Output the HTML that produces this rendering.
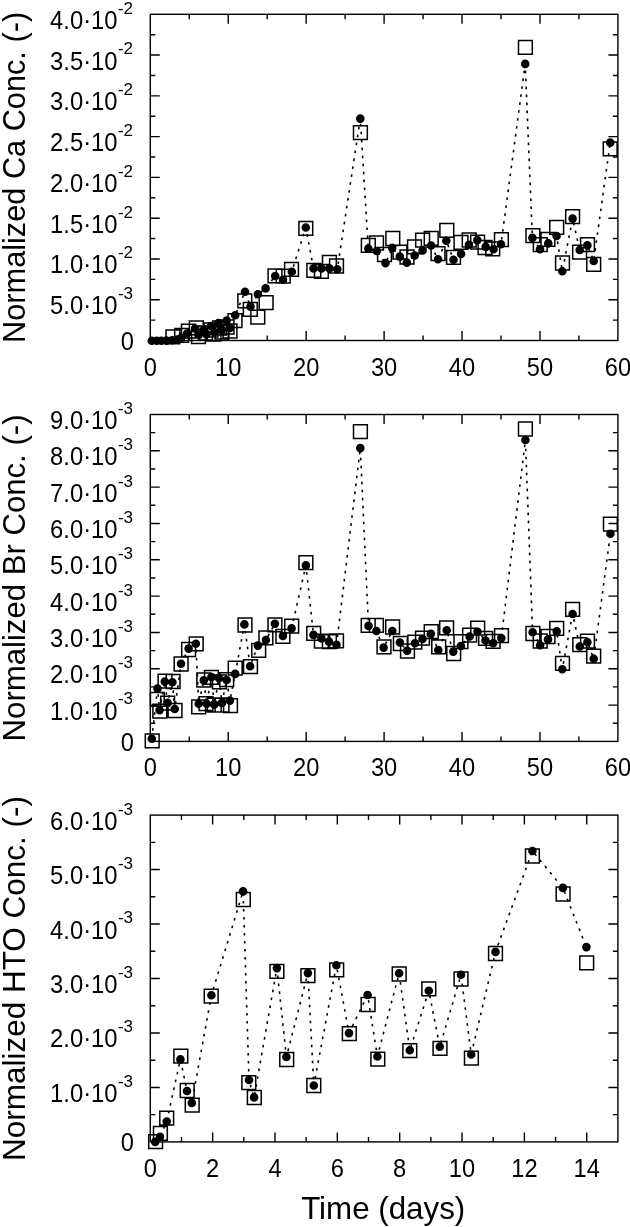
<!DOCTYPE html><html><head><meta charset="utf-8"><style>html,body{margin:0;padding:0;background:#fff;}svg{display:block;will-change:transform;}text{font-family:"Liberation Sans",sans-serif;fill:#000;}</style></head><body>
<svg width="630" height="1227" viewBox="0 0 630 1227">
<rect width="630" height="1227" fill="#fff"/>
<path d="M189.27 340.5v-5M189.27 14.3v5M228.23 340.5v-9.5M228.23 14.3v9.5M267.2 340.5v-5M267.2 14.3v5M306.17 340.5v-9.5M306.17 14.3v9.5M345.13 340.5v-5M345.13 14.3v5M384.1 340.5v-9.5M384.1 14.3v9.5M423.07 340.5v-5M423.07 14.3v5M462.03 340.5v-9.5M462.03 14.3v9.5M501 340.5v-5M501 14.3v5M539.97 340.5v-9.5M539.97 14.3v9.5M578.93 340.5v-5M578.93 14.3v5M150.3 320.11h5M617.9 320.11h-5M150.3 299.73h9.5M617.9 299.73h-9.5M150.3 279.34h5M617.9 279.34h-5M150.3 258.95h9.5M617.9 258.95h-9.5M150.3 238.56h5M617.9 238.56h-5M150.3 218.18h9.5M617.9 218.18h-9.5M150.3 197.79h5M617.9 197.79h-5M150.3 177.4h9.5M617.9 177.4h-9.5M150.3 157.01h5M617.9 157.01h-5M150.3 136.62h9.5M617.9 136.62h-9.5M150.3 116.24h5M617.9 116.24h-5M150.3 95.85h9.5M617.9 95.85h-9.5M150.3 75.46h5M617.9 75.46h-5M150.3 55.07h9.5M617.9 55.07h-9.5M150.3 34.69h5M617.9 34.69h-5" stroke="#000" stroke-width="1.4" fill="none"/>
<rect x="150.3" y="14.3" width="467.6" height="326.2" fill="none" stroke="#000" stroke-width="1.4"/>
<path d="M151.8 340.8 L156.8 340.8 L161.4 340.8 L166.4 340.6 L172.1 340.3 L177 339.5 L181 338 L187 333.5 L195 328.5 L198.7 335 L203.8 329.5 L206.7 334 L211 326 L214.3 332 L218.5 323 L221.9 330 L226.7 320.5 L229.9 328 L235.2 315.3 L245 291.7 L250.5 306.6 L257.9 294.2 L265.6 288.4 L275.2 276 L283 279.7 L291.8 271.7 L305.8 227.5 L313.5 268.4 L321.4 268.4 L329.4 268.4 L337.3 269.2 L360.3 118.6 L368.3 248.6 L376.7 251 L385.5 263.1 L392.2 247.9 L399.8 256.6 L406.8 262.6 L414.7 255.5 L422.6 250.4 L431.1 245.5 L438 259.2 L446.3 240.7 L453.5 259.8 L461.1 253.9 L468.9 244.8 L477.3 240.1 L485.7 246.9 L493.5 249.3 L501 244.2 L525.2 63.9 L532.4 237.9 L540 249.3 L548.3 243.4 L556.6 236 L562.3 271.2 L572.6 218.6 L579.7 250 L587.4 245.4 L593.7 261 L610.2 142.6" fill="none" stroke="#000" stroke-width="1.6" stroke-dasharray="2.6 5.4"/>
<path d="M166 329.9h13.8v13.8h-13.8zM174.7 328.5h13.8v13.8h-13.8zM181.5 324.3h13.8v13.8h-13.8zM189.4 321h13.8v13.8h-13.8zM191.6 329.7h13.8v13.8h-13.8zM198.6 326.1h13.8v13.8h-13.8zM204.1 323.1h13.8v13.8h-13.8zM207.1 327.1h13.8v13.8h-13.8zM212.6 321.1h13.8v13.8h-13.8zM215.1 325.1h13.8v13.8h-13.8zM220.1 320.1h13.8v13.8h-13.8zM223.1 324.1h13.8v13.8h-13.8zM228.1 313.7h13.8v13.8h-13.8zM237.9 293.9h13.8v13.8h-13.8zM243.4 302.4h13.8v13.8h-13.8zM250.9 310.2h13.8v13.8h-13.8zM259.2 295.7h13.8v13.8h-13.8zM268.1 268.9h13.8v13.8h-13.8zM276.3 269.2h13.8v13.8h-13.8zM284.6 262.4h13.8v13.8h-13.8zM298.9 221.4h13.8v13.8h-13.8zM306.9 263.4h13.8v13.8h-13.8zM314.5 264.5h13.8v13.8h-13.8zM322.5 255.5h13.8v13.8h-13.8zM329.6 259.1h13.8v13.8h-13.8zM353.5 125.7h13.8v13.8h-13.8zM361.4 238.5h13.8v13.8h-13.8zM369.6 236.1h13.8v13.8h-13.8zM377.6 247.6h13.8v13.8h-13.8zM385.9 231.6h13.8v13.8h-13.8zM393.1 245.2h13.8v13.8h-13.8zM400.1 250.1h13.8v13.8h-13.8zM407.6 240h13.8v13.8h-13.8zM415.7 233.3h13.8v13.8h-13.8zM424.3 231.4h13.8v13.8h-13.8zM431.1 246.7h13.8v13.8h-13.8zM439.9 223.5h13.8v13.8h-13.8zM446.6 250.5h13.8v13.8h-13.8zM454.1 235.4h13.8v13.8h-13.8zM462.3 233.1h13.8v13.8h-13.8zM470.7 235.2h13.8v13.8h-13.8zM478.1 240.6h13.8v13.8h-13.8zM485.8 241.9h13.8v13.8h-13.8zM494.5 232.7h13.8v13.8h-13.8zM518.5 40.5h13.8v13.8h-13.8zM526 228.7h13.8v13.8h-13.8zM533.4 237.8h13.8v13.8h-13.8zM541 232.5h13.8v13.8h-13.8zM549.8 220.5h13.8v13.8h-13.8zM555.6 256.1h13.8v13.8h-13.8zM565.7 209.7h13.8v13.8h-13.8zM572.7 245.3h13.8v13.8h-13.8zM580.6 237.8h13.8v13.8h-13.8zM586.8 257.4h13.8v13.8h-13.8zM603.3 142h13.8v13.8h-13.8z" fill="none" stroke="#000" stroke-width="1.5"/>
<path d="M147.5 340.8a4.3 4.3 0 1 0 8.6 0a4.3 4.3 0 1 0 -8.6 0zM152.5 340.8a4.3 4.3 0 1 0 8.6 0a4.3 4.3 0 1 0 -8.6 0zM157.1 340.8a4.3 4.3 0 1 0 8.6 0a4.3 4.3 0 1 0 -8.6 0zM162.1 340.6a4.3 4.3 0 1 0 8.6 0a4.3 4.3 0 1 0 -8.6 0zM167.8 340.3a4.3 4.3 0 1 0 8.6 0a4.3 4.3 0 1 0 -8.6 0zM172.7 339.5a4.3 4.3 0 1 0 8.6 0a4.3 4.3 0 1 0 -8.6 0zM176.7 338a4.3 4.3 0 1 0 8.6 0a4.3 4.3 0 1 0 -8.6 0zM182.7 333.5a4.3 4.3 0 1 0 8.6 0a4.3 4.3 0 1 0 -8.6 0zM190.7 328.5a4.3 4.3 0 1 0 8.6 0a4.3 4.3 0 1 0 -8.6 0zM194.4 335a4.3 4.3 0 1 0 8.6 0a4.3 4.3 0 1 0 -8.6 0zM199.5 329.5a4.3 4.3 0 1 0 8.6 0a4.3 4.3 0 1 0 -8.6 0zM202.4 334a4.3 4.3 0 1 0 8.6 0a4.3 4.3 0 1 0 -8.6 0zM206.7 326a4.3 4.3 0 1 0 8.6 0a4.3 4.3 0 1 0 -8.6 0zM210 332a4.3 4.3 0 1 0 8.6 0a4.3 4.3 0 1 0 -8.6 0zM214.2 323a4.3 4.3 0 1 0 8.6 0a4.3 4.3 0 1 0 -8.6 0zM217.6 330a4.3 4.3 0 1 0 8.6 0a4.3 4.3 0 1 0 -8.6 0zM222.4 320.5a4.3 4.3 0 1 0 8.6 0a4.3 4.3 0 1 0 -8.6 0zM225.6 328a4.3 4.3 0 1 0 8.6 0a4.3 4.3 0 1 0 -8.6 0zM230.9 315.3a4.3 4.3 0 1 0 8.6 0a4.3 4.3 0 1 0 -8.6 0zM240.7 291.7a4.3 4.3 0 1 0 8.6 0a4.3 4.3 0 1 0 -8.6 0zM246.2 306.6a4.3 4.3 0 1 0 8.6 0a4.3 4.3 0 1 0 -8.6 0zM253.6 294.2a4.3 4.3 0 1 0 8.6 0a4.3 4.3 0 1 0 -8.6 0zM261.3 288.4a4.3 4.3 0 1 0 8.6 0a4.3 4.3 0 1 0 -8.6 0zM270.9 276a4.3 4.3 0 1 0 8.6 0a4.3 4.3 0 1 0 -8.6 0zM278.7 279.7a4.3 4.3 0 1 0 8.6 0a4.3 4.3 0 1 0 -8.6 0zM287.5 271.7a4.3 4.3 0 1 0 8.6 0a4.3 4.3 0 1 0 -8.6 0zM301.5 227.5a4.3 4.3 0 1 0 8.6 0a4.3 4.3 0 1 0 -8.6 0zM309.2 268.4a4.3 4.3 0 1 0 8.6 0a4.3 4.3 0 1 0 -8.6 0zM317.1 268.4a4.3 4.3 0 1 0 8.6 0a4.3 4.3 0 1 0 -8.6 0zM325.1 268.4a4.3 4.3 0 1 0 8.6 0a4.3 4.3 0 1 0 -8.6 0zM333 269.2a4.3 4.3 0 1 0 8.6 0a4.3 4.3 0 1 0 -8.6 0zM356 118.6a4.3 4.3 0 1 0 8.6 0a4.3 4.3 0 1 0 -8.6 0zM364 248.6a4.3 4.3 0 1 0 8.6 0a4.3 4.3 0 1 0 -8.6 0zM372.4 251a4.3 4.3 0 1 0 8.6 0a4.3 4.3 0 1 0 -8.6 0zM381.2 263.1a4.3 4.3 0 1 0 8.6 0a4.3 4.3 0 1 0 -8.6 0zM387.9 247.9a4.3 4.3 0 1 0 8.6 0a4.3 4.3 0 1 0 -8.6 0zM395.5 256.6a4.3 4.3 0 1 0 8.6 0a4.3 4.3 0 1 0 -8.6 0zM402.5 262.6a4.3 4.3 0 1 0 8.6 0a4.3 4.3 0 1 0 -8.6 0zM410.4 255.5a4.3 4.3 0 1 0 8.6 0a4.3 4.3 0 1 0 -8.6 0zM418.3 250.4a4.3 4.3 0 1 0 8.6 0a4.3 4.3 0 1 0 -8.6 0zM426.8 245.5a4.3 4.3 0 1 0 8.6 0a4.3 4.3 0 1 0 -8.6 0zM433.7 259.2a4.3 4.3 0 1 0 8.6 0a4.3 4.3 0 1 0 -8.6 0zM442 240.7a4.3 4.3 0 1 0 8.6 0a4.3 4.3 0 1 0 -8.6 0zM449.2 259.8a4.3 4.3 0 1 0 8.6 0a4.3 4.3 0 1 0 -8.6 0zM456.8 253.9a4.3 4.3 0 1 0 8.6 0a4.3 4.3 0 1 0 -8.6 0zM464.6 244.8a4.3 4.3 0 1 0 8.6 0a4.3 4.3 0 1 0 -8.6 0zM473 240.1a4.3 4.3 0 1 0 8.6 0a4.3 4.3 0 1 0 -8.6 0zM481.4 246.9a4.3 4.3 0 1 0 8.6 0a4.3 4.3 0 1 0 -8.6 0zM489.2 249.3a4.3 4.3 0 1 0 8.6 0a4.3 4.3 0 1 0 -8.6 0zM496.7 244.2a4.3 4.3 0 1 0 8.6 0a4.3 4.3 0 1 0 -8.6 0zM520.9 63.9a4.3 4.3 0 1 0 8.6 0a4.3 4.3 0 1 0 -8.6 0zM528.1 237.9a4.3 4.3 0 1 0 8.6 0a4.3 4.3 0 1 0 -8.6 0zM535.7 249.3a4.3 4.3 0 1 0 8.6 0a4.3 4.3 0 1 0 -8.6 0zM544 243.4a4.3 4.3 0 1 0 8.6 0a4.3 4.3 0 1 0 -8.6 0zM552.3 236a4.3 4.3 0 1 0 8.6 0a4.3 4.3 0 1 0 -8.6 0zM558 271.2a4.3 4.3 0 1 0 8.6 0a4.3 4.3 0 1 0 -8.6 0zM568.3 218.6a4.3 4.3 0 1 0 8.6 0a4.3 4.3 0 1 0 -8.6 0zM575.4 250a4.3 4.3 0 1 0 8.6 0a4.3 4.3 0 1 0 -8.6 0zM583.1 245.4a4.3 4.3 0 1 0 8.6 0a4.3 4.3 0 1 0 -8.6 0zM589.4 261a4.3 4.3 0 1 0 8.6 0a4.3 4.3 0 1 0 -8.6 0zM605.9 142.6a4.3 4.3 0 1 0 8.6 0a4.3 4.3 0 1 0 -8.6 0z" fill="#000"/>
<text x="132.5" y="28.8" font-size="26" text-anchor="end" textLength="67.5" lengthAdjust="spacingAndGlyphs" transform="translate(-14.900000000000006 0)">4.0·10</text>
<text x="133" y="13.7" font-size="17" text-anchor="end">-2</text>
<text x="132.5" y="69.58" font-size="26" text-anchor="end" textLength="67.5" lengthAdjust="spacingAndGlyphs" transform="translate(-14.900000000000006 0)">3.5·10</text>
<text x="133" y="54.48" font-size="17" text-anchor="end">-2</text>
<text x="132.5" y="110.35" font-size="26" text-anchor="end" textLength="67.5" lengthAdjust="spacingAndGlyphs" transform="translate(-14.900000000000006 0)">3.0·10</text>
<text x="133" y="95.25" font-size="17" text-anchor="end">-2</text>
<text x="132.5" y="151.12" font-size="26" text-anchor="end" textLength="67.5" lengthAdjust="spacingAndGlyphs" transform="translate(-14.900000000000006 0)">2.5·10</text>
<text x="133" y="136.03" font-size="17" text-anchor="end">-2</text>
<text x="132.5" y="191.9" font-size="26" text-anchor="end" textLength="67.5" lengthAdjust="spacingAndGlyphs" transform="translate(-14.900000000000006 0)">2.0·10</text>
<text x="133" y="176.8" font-size="17" text-anchor="end">-2</text>
<text x="132.5" y="232.68" font-size="26" text-anchor="end" textLength="67.5" lengthAdjust="spacingAndGlyphs" transform="translate(-14.900000000000006 0)">1.5·10</text>
<text x="133" y="217.58" font-size="17" text-anchor="end">-2</text>
<text x="132.5" y="273.45" font-size="26" text-anchor="end" textLength="67.5" lengthAdjust="spacingAndGlyphs" transform="translate(-14.900000000000006 0)">1.0·10</text>
<text x="133" y="258.35" font-size="17" text-anchor="end">-2</text>
<text x="132.5" y="314.23" font-size="26" text-anchor="end" textLength="67.5" lengthAdjust="spacingAndGlyphs" transform="translate(-14.900000000000006 0)">5.0·10</text>
<text x="133" y="299.12" font-size="17" text-anchor="end">-3</text>
<text transform="translate(134 349.8) scale(0.9 1)" font-size="26.3" text-anchor="end">0</text>
<text transform="translate(150.3 375.5) scale(0.9 1)" font-size="26.3" text-anchor="middle">0</text>
<text transform="translate(228.23 375.5) scale(0.9 1)" font-size="26.3" text-anchor="middle">10</text>
<text transform="translate(306.17 375.5) scale(0.9 1)" font-size="26.3" text-anchor="middle">20</text>
<text transform="translate(384.1 375.5) scale(0.9 1)" font-size="26.3" text-anchor="middle">30</text>
<text transform="translate(462.03 375.5) scale(0.9 1)" font-size="26.3" text-anchor="middle">40</text>
<text transform="translate(539.97 375.5) scale(0.9 1)" font-size="26.3" text-anchor="middle">50</text>
<text transform="translate(617.9 375.5) scale(0.9 1)" font-size="26.3" text-anchor="middle">60</text>
<text transform="translate(25 177.4) rotate(-90)" x="0" y="0" font-size="32" text-anchor="middle" textLength="331" lengthAdjust="spacingAndGlyphs">Normalized Ca Conc. (-)</text>
<path d="M189.27 741.4v-5M189.27 414.5v5M228.23 741.4v-9.5M228.23 414.5v9.5M267.2 741.4v-5M267.2 414.5v5M306.17 741.4v-9.5M306.17 414.5v9.5M345.13 741.4v-5M345.13 414.5v5M384.1 741.4v-9.5M384.1 414.5v9.5M423.07 741.4v-5M423.07 414.5v5M462.03 741.4v-9.5M462.03 414.5v9.5M501 741.4v-5M501 414.5v5M539.97 741.4v-9.5M539.97 414.5v9.5M578.93 741.4v-5M578.93 414.5v5M150.3 723.24h5M617.9 723.24h-5M150.3 705.08h9.5M617.9 705.08h-9.5M150.3 686.92h5M617.9 686.92h-5M150.3 668.76h9.5M617.9 668.76h-9.5M150.3 650.59h5M617.9 650.59h-5M150.3 632.43h9.5M617.9 632.43h-9.5M150.3 614.27h5M617.9 614.27h-5M150.3 596.11h9.5M617.9 596.11h-9.5M150.3 577.95h5M617.9 577.95h-5M150.3 559.79h9.5M617.9 559.79h-9.5M150.3 541.63h5M617.9 541.63h-5M150.3 523.47h9.5M617.9 523.47h-9.5M150.3 505.31h5M617.9 505.31h-5M150.3 487.14h9.5M617.9 487.14h-9.5M150.3 468.98h5M617.9 468.98h-5M150.3 450.82h9.5M617.9 450.82h-9.5M150.3 432.66h5M617.9 432.66h-5" stroke="#000" stroke-width="1.4" fill="none"/>
<rect x="150.3" y="414.5" width="467.6" height="326.9" fill="none" stroke="#000" stroke-width="1.4"/>
<path d="M151.8 738.7 L157.5 688.6 L159.6 710.1 L164.8 681.5 L167.6 702.9 L172.4 682.3 L174.7 709 L181 663.8 L188.6 648.6 L195.8 643.8 L198.7 703.8 L203.8 680.4 L206.7 703.8 L211.4 677.1 L214.3 704.4 L219 678.1 L221.9 702.9 L226.7 680 L229.9 700.6 L235.2 673.9 L244.4 624.4 L250.1 666.3 L257.9 645.6 L265.9 640 L274.9 623.7 L282.9 636 L291.6 628.4 L305.9 565.4 L313.5 634.9 L321.4 638.4 L329 641.6 L336.5 644.8 L360.3 448.1 L368.5 625.9 L376.4 631 L383.6 647.6 L392.3 631 L399.9 642.5 L407.1 650.8 L415 643.2 L422.5 638.9 L430.9 633.7 L438.3 650 L446.7 630.2 L453.3 651.6 L460.9 646 L469.6 636.5 L477.5 631.7 L485.5 640.5 L493.1 643.2 L501.3 638.1 L525.4 440 L532.6 632.2 L540.1 645.2 L548 639.4 L556.7 631.4 L562.3 669.2 L572.6 614 L579.8 646.5 L587.4 642.2 L593.7 658.7 L610.4 533.8" fill="none" stroke="#000" stroke-width="1.6" stroke-dasharray="2.6 5.4"/>
<path d="M145.3 733.9h13.8v13.8h-13.8zM150.4 692.5h13.8v13.8h-13.8zM152.9 704.3h13.8v13.8h-13.8zM158.1 674.2h13.8v13.8h-13.8zM160.7 696.3h13.8v13.8h-13.8zM166.2 674.6h13.8v13.8h-13.8zM168.1 703.6h13.8v13.8h-13.8zM174.2 657.1h13.8v13.8h-13.8zM181.7 642.6h13.8v13.8h-13.8zM189.3 636.9h13.8v13.8h-13.8zM191.8 700h13.8v13.8h-13.8zM196.9 673.1h13.8v13.8h-13.8zM199.1 696.7h13.8v13.8h-13.8zM204.5 670.4h13.8v13.8h-13.8zM207.4 698.2h13.8v13.8h-13.8zM212.5 675h13.8v13.8h-13.8zM215.1 698.1h13.8v13.8h-13.8zM219.8 672.7h13.8v13.8h-13.8zM223.6 698.8h13.8v13.8h-13.8zM228.3 661.3h13.8v13.8h-13.8zM238.1 618.1h13.8v13.8h-13.8zM243.6 659.8h13.8v13.8h-13.8zM251.8 643.4h13.8v13.8h-13.8zM259 631h13.8v13.8h-13.8zM268 617.9h13.8v13.8h-13.8zM276 629.4h13.8v13.8h-13.8zM284.8 619.3h13.8v13.8h-13.8zM299 555.8h13.8v13.8h-13.8zM306.8 626.4h13.8v13.8h-13.8zM314.5 634.2h13.8v13.8h-13.8zM322.5 634.7h13.8v13.8h-13.8zM329.6 633.9h13.8v13.8h-13.8zM353.5 424.8h13.8v13.8h-13.8zM361.3 618.5h13.8v13.8h-13.8zM369.5 618.5h13.8v13.8h-13.8zM377.1 639.9h13.8v13.8h-13.8zM385.7 620.1h13.8v13.8h-13.8zM393.5 636.6h13.8v13.8h-13.8zM400.6 644.1h13.8v13.8h-13.8zM407.9 635.2h13.8v13.8h-13.8zM415.6 631.2h13.8v13.8h-13.8zM424.3 624.8h13.8v13.8h-13.8zM431.8 639.9h13.8v13.8h-13.8zM439.7 620.9h13.8v13.8h-13.8zM446.8 646.6h13.8v13.8h-13.8zM454 634.7h13.8v13.8h-13.8zM462.7 628.3h13.8v13.8h-13.8zM470.8 621.2h13.8v13.8h-13.8zM478.7 631.5h13.8v13.8h-13.8zM486.2 634.5h13.8v13.8h-13.8zM494.6 628.7h13.8v13.8h-13.8zM518.5 422.1h13.8v13.8h-13.8zM526 626.6h13.8v13.8h-13.8zM533.3 634.1h13.8v13.8h-13.8zM541.1 629.6h13.8v13.8h-13.8zM549.8 621.4h13.8v13.8h-13.8zM555.6 656.4h13.8v13.8h-13.8zM565.7 602.5h13.8v13.8h-13.8zM572.9 637.7h13.8v13.8h-13.8zM580.6 634.2h13.8v13.8h-13.8zM586.8 649.3h13.8v13.8h-13.8zM603.5 517.2h13.8v13.8h-13.8z" fill="none" stroke="#000" stroke-width="1.5"/>
<path d="M147.5 738.7a4.3 4.3 0 1 0 8.6 0a4.3 4.3 0 1 0 -8.6 0zM153.2 688.6a4.3 4.3 0 1 0 8.6 0a4.3 4.3 0 1 0 -8.6 0zM155.3 710.1a4.3 4.3 0 1 0 8.6 0a4.3 4.3 0 1 0 -8.6 0zM160.5 681.5a4.3 4.3 0 1 0 8.6 0a4.3 4.3 0 1 0 -8.6 0zM163.3 702.9a4.3 4.3 0 1 0 8.6 0a4.3 4.3 0 1 0 -8.6 0zM168.1 682.3a4.3 4.3 0 1 0 8.6 0a4.3 4.3 0 1 0 -8.6 0zM170.4 709a4.3 4.3 0 1 0 8.6 0a4.3 4.3 0 1 0 -8.6 0zM176.7 663.8a4.3 4.3 0 1 0 8.6 0a4.3 4.3 0 1 0 -8.6 0zM184.3 648.6a4.3 4.3 0 1 0 8.6 0a4.3 4.3 0 1 0 -8.6 0zM191.5 643.8a4.3 4.3 0 1 0 8.6 0a4.3 4.3 0 1 0 -8.6 0zM194.4 703.8a4.3 4.3 0 1 0 8.6 0a4.3 4.3 0 1 0 -8.6 0zM199.5 680.4a4.3 4.3 0 1 0 8.6 0a4.3 4.3 0 1 0 -8.6 0zM202.4 703.8a4.3 4.3 0 1 0 8.6 0a4.3 4.3 0 1 0 -8.6 0zM207.1 677.1a4.3 4.3 0 1 0 8.6 0a4.3 4.3 0 1 0 -8.6 0zM210 704.4a4.3 4.3 0 1 0 8.6 0a4.3 4.3 0 1 0 -8.6 0zM214.7 678.1a4.3 4.3 0 1 0 8.6 0a4.3 4.3 0 1 0 -8.6 0zM217.6 702.9a4.3 4.3 0 1 0 8.6 0a4.3 4.3 0 1 0 -8.6 0zM222.4 680a4.3 4.3 0 1 0 8.6 0a4.3 4.3 0 1 0 -8.6 0zM225.6 700.6a4.3 4.3 0 1 0 8.6 0a4.3 4.3 0 1 0 -8.6 0zM230.9 673.9a4.3 4.3 0 1 0 8.6 0a4.3 4.3 0 1 0 -8.6 0zM240.1 624.4a4.3 4.3 0 1 0 8.6 0a4.3 4.3 0 1 0 -8.6 0zM245.8 666.3a4.3 4.3 0 1 0 8.6 0a4.3 4.3 0 1 0 -8.6 0zM253.6 645.6a4.3 4.3 0 1 0 8.6 0a4.3 4.3 0 1 0 -8.6 0zM261.6 640a4.3 4.3 0 1 0 8.6 0a4.3 4.3 0 1 0 -8.6 0zM270.6 623.7a4.3 4.3 0 1 0 8.6 0a4.3 4.3 0 1 0 -8.6 0zM278.6 636a4.3 4.3 0 1 0 8.6 0a4.3 4.3 0 1 0 -8.6 0zM287.3 628.4a4.3 4.3 0 1 0 8.6 0a4.3 4.3 0 1 0 -8.6 0zM301.6 565.4a4.3 4.3 0 1 0 8.6 0a4.3 4.3 0 1 0 -8.6 0zM309.2 634.9a4.3 4.3 0 1 0 8.6 0a4.3 4.3 0 1 0 -8.6 0zM317.1 638.4a4.3 4.3 0 1 0 8.6 0a4.3 4.3 0 1 0 -8.6 0zM324.7 641.6a4.3 4.3 0 1 0 8.6 0a4.3 4.3 0 1 0 -8.6 0zM332.2 644.8a4.3 4.3 0 1 0 8.6 0a4.3 4.3 0 1 0 -8.6 0zM356 448.1a4.3 4.3 0 1 0 8.6 0a4.3 4.3 0 1 0 -8.6 0zM364.2 625.9a4.3 4.3 0 1 0 8.6 0a4.3 4.3 0 1 0 -8.6 0zM372.1 631a4.3 4.3 0 1 0 8.6 0a4.3 4.3 0 1 0 -8.6 0zM379.3 647.6a4.3 4.3 0 1 0 8.6 0a4.3 4.3 0 1 0 -8.6 0zM388 631a4.3 4.3 0 1 0 8.6 0a4.3 4.3 0 1 0 -8.6 0zM395.6 642.5a4.3 4.3 0 1 0 8.6 0a4.3 4.3 0 1 0 -8.6 0zM402.8 650.8a4.3 4.3 0 1 0 8.6 0a4.3 4.3 0 1 0 -8.6 0zM410.7 643.2a4.3 4.3 0 1 0 8.6 0a4.3 4.3 0 1 0 -8.6 0zM418.2 638.9a4.3 4.3 0 1 0 8.6 0a4.3 4.3 0 1 0 -8.6 0zM426.6 633.7a4.3 4.3 0 1 0 8.6 0a4.3 4.3 0 1 0 -8.6 0zM434 650a4.3 4.3 0 1 0 8.6 0a4.3 4.3 0 1 0 -8.6 0zM442.4 630.2a4.3 4.3 0 1 0 8.6 0a4.3 4.3 0 1 0 -8.6 0zM449 651.6a4.3 4.3 0 1 0 8.6 0a4.3 4.3 0 1 0 -8.6 0zM456.6 646a4.3 4.3 0 1 0 8.6 0a4.3 4.3 0 1 0 -8.6 0zM465.3 636.5a4.3 4.3 0 1 0 8.6 0a4.3 4.3 0 1 0 -8.6 0zM473.2 631.7a4.3 4.3 0 1 0 8.6 0a4.3 4.3 0 1 0 -8.6 0zM481.2 640.5a4.3 4.3 0 1 0 8.6 0a4.3 4.3 0 1 0 -8.6 0zM488.8 643.2a4.3 4.3 0 1 0 8.6 0a4.3 4.3 0 1 0 -8.6 0zM497 638.1a4.3 4.3 0 1 0 8.6 0a4.3 4.3 0 1 0 -8.6 0zM521.1 440a4.3 4.3 0 1 0 8.6 0a4.3 4.3 0 1 0 -8.6 0zM528.3 632.2a4.3 4.3 0 1 0 8.6 0a4.3 4.3 0 1 0 -8.6 0zM535.8 645.2a4.3 4.3 0 1 0 8.6 0a4.3 4.3 0 1 0 -8.6 0zM543.7 639.4a4.3 4.3 0 1 0 8.6 0a4.3 4.3 0 1 0 -8.6 0zM552.4 631.4a4.3 4.3 0 1 0 8.6 0a4.3 4.3 0 1 0 -8.6 0zM558 669.2a4.3 4.3 0 1 0 8.6 0a4.3 4.3 0 1 0 -8.6 0zM568.3 614a4.3 4.3 0 1 0 8.6 0a4.3 4.3 0 1 0 -8.6 0zM575.5 646.5a4.3 4.3 0 1 0 8.6 0a4.3 4.3 0 1 0 -8.6 0zM583.1 642.2a4.3 4.3 0 1 0 8.6 0a4.3 4.3 0 1 0 -8.6 0zM589.4 658.7a4.3 4.3 0 1 0 8.6 0a4.3 4.3 0 1 0 -8.6 0zM606.1 533.8a4.3 4.3 0 1 0 8.6 0a4.3 4.3 0 1 0 -8.6 0z" fill="#000"/>
<text x="132.5" y="429" font-size="26" text-anchor="end" textLength="67.5" lengthAdjust="spacingAndGlyphs" transform="translate(-14.900000000000006 0)">9.0·10</text>
<text x="133" y="413.9" font-size="17" text-anchor="end">-3</text>
<text x="132.5" y="465.32" font-size="26" text-anchor="end" textLength="67.5" lengthAdjust="spacingAndGlyphs" transform="translate(-14.900000000000006 0)">8.0·10</text>
<text x="133" y="450.22" font-size="17" text-anchor="end">-3</text>
<text x="132.5" y="501.64" font-size="26" text-anchor="end" textLength="67.5" lengthAdjust="spacingAndGlyphs" transform="translate(-14.900000000000006 0)">7.0·10</text>
<text x="133" y="486.54" font-size="17" text-anchor="end">-3</text>
<text x="132.5" y="537.97" font-size="26" text-anchor="end" textLength="67.5" lengthAdjust="spacingAndGlyphs" transform="translate(-14.900000000000006 0)">6.0·10</text>
<text x="133" y="522.87" font-size="17" text-anchor="end">-3</text>
<text x="132.5" y="574.29" font-size="26" text-anchor="end" textLength="67.5" lengthAdjust="spacingAndGlyphs" transform="translate(-14.900000000000006 0)">5.0·10</text>
<text x="133" y="559.19" font-size="17" text-anchor="end">-3</text>
<text x="132.5" y="610.61" font-size="26" text-anchor="end" textLength="67.5" lengthAdjust="spacingAndGlyphs" transform="translate(-14.900000000000006 0)">4.0·10</text>
<text x="133" y="595.51" font-size="17" text-anchor="end">-3</text>
<text x="132.5" y="646.93" font-size="26" text-anchor="end" textLength="67.5" lengthAdjust="spacingAndGlyphs" transform="translate(-14.900000000000006 0)">3.0·10</text>
<text x="133" y="631.83" font-size="17" text-anchor="end">-3</text>
<text x="132.5" y="683.26" font-size="26" text-anchor="end" textLength="67.5" lengthAdjust="spacingAndGlyphs" transform="translate(-14.900000000000006 0)">2.0·10</text>
<text x="133" y="668.16" font-size="17" text-anchor="end">-3</text>
<text x="132.5" y="719.58" font-size="26" text-anchor="end" textLength="67.5" lengthAdjust="spacingAndGlyphs" transform="translate(-14.900000000000006 0)">1.0·10</text>
<text x="133" y="704.48" font-size="17" text-anchor="end">-3</text>
<text transform="translate(134 750.7) scale(0.9 1)" font-size="26.3" text-anchor="end">0</text>
<text transform="translate(150.3 776.4) scale(0.9 1)" font-size="26.3" text-anchor="middle">0</text>
<text transform="translate(228.23 776.4) scale(0.9 1)" font-size="26.3" text-anchor="middle">10</text>
<text transform="translate(306.17 776.4) scale(0.9 1)" font-size="26.3" text-anchor="middle">20</text>
<text transform="translate(384.1 776.4) scale(0.9 1)" font-size="26.3" text-anchor="middle">30</text>
<text transform="translate(462.03 776.4) scale(0.9 1)" font-size="26.3" text-anchor="middle">40</text>
<text transform="translate(539.97 776.4) scale(0.9 1)" font-size="26.3" text-anchor="middle">50</text>
<text transform="translate(617.9 776.4) scale(0.9 1)" font-size="26.3" text-anchor="middle">60</text>
<text transform="translate(25 577.95) rotate(-90)" x="0" y="0" font-size="32" text-anchor="middle" textLength="326.9" lengthAdjust="spacingAndGlyphs">Normalized Br Conc. (-)</text>
<path d="M181.47 1141.9v-5M181.47 815.1v5M212.65 1141.9v-9.5M212.65 815.1v9.5M243.82 1141.9v-5M243.82 815.1v5M274.99 1141.9v-9.5M274.99 815.1v9.5M306.17 1141.9v-5M306.17 815.1v5M337.34 1141.9v-9.5M337.34 815.1v9.5M368.51 1141.9v-5M368.51 815.1v5M399.69 1141.9v-9.5M399.69 815.1v9.5M430.86 1141.9v-5M430.86 815.1v5M462.03 1141.9v-9.5M462.03 815.1v9.5M493.21 1141.9v-5M493.21 815.1v5M524.38 1141.9v-9.5M524.38 815.1v9.5M555.55 1141.9v-5M555.55 815.1v5M586.73 1141.9v-9.5M586.73 815.1v9.5M150.3 1114.67h5M617.9 1114.67h-5M150.3 1087.43h9.5M617.9 1087.43h-9.5M150.3 1060.2h5M617.9 1060.2h-5M150.3 1032.97h9.5M617.9 1032.97h-9.5M150.3 1005.73h5M617.9 1005.73h-5M150.3 978.5h9.5M617.9 978.5h-9.5M150.3 951.27h5M617.9 951.27h-5M150.3 924.03h9.5M617.9 924.03h-9.5M150.3 896.8h5M617.9 896.8h-5M150.3 869.57h9.5M617.9 869.57h-9.5M150.3 842.33h5M617.9 842.33h-5" stroke="#000" stroke-width="1.4" fill="none"/>
<rect x="150.3" y="815.1" width="467.6" height="326.8" fill="none" stroke="#000" stroke-width="1.4"/>
<path d="M155.2 1141.9 L160 1136.8 L166.7 1121.5 L180.4 1059.4 L187 1091 L191.8 1102.9 L211.4 995.2 L243.1 891.4 L249 1080 L254.1 1097.4 L276.9 968.1 L286.4 1056.9 L307.9 973.1 L313.8 1085.5 L336.4 965.2 L349 1033.1 L367.6 995 L377.4 1056.5 L399.1 973.3 L409.8 1050.2 L428.8 990.7 L439.8 1046.7 L461 974.8 L471.2 1054.5 L495.5 951.9 L532.4 851 L562.9 887.9 L586.4 947.1" fill="none" stroke="#000" stroke-width="1.6" stroke-dasharray="2.6 5.4"/>
<path d="M148.7 1134.8h13.8v13.8h-13.8zM153.5 1126.4h13.8v13.8h-13.8zM159.8 1111.2h13.8v13.8h-13.8zM173.9 1049.3h13.8v13.8h-13.8zM180.3 1083.6h13.8v13.8h-13.8zM185.3 1098.2h13.8v13.8h-13.8zM204.3 989.3h13.8v13.8h-13.8zM236.4 892.6h13.8v13.8h-13.8zM241.9 1075.8h13.8v13.8h-13.8zM247.4 1090.6h13.8v13.8h-13.8zM270 964.5h13.8v13.8h-13.8zM279.8 1052.6h13.8v13.8h-13.8zM301 968.8h13.8v13.8h-13.8zM306.9 1078.6h13.8v13.8h-13.8zM329.8 962.9h13.8v13.8h-13.8zM342.4 1026.7h13.8v13.8h-13.8zM361.2 997.6h13.8v13.8h-13.8zM370.9 1052.2h13.8v13.8h-13.8zM392.3 967.1h13.8v13.8h-13.8zM402.9 1043.8h13.8v13.8h-13.8zM421.9 981.9h13.8v13.8h-13.8zM433.1 1041.4h13.8v13.8h-13.8zM454.1 972.1h13.8v13.8h-13.8zM464.5 1051.2h13.8v13.8h-13.8zM488.6 946.6h13.8v13.8h-13.8zM525.5 849.1h13.8v13.8h-13.8zM556.2 887.1h13.8v13.8h-13.8zM579.8 956h13.8v13.8h-13.8z" fill="none" stroke="#000" stroke-width="1.5"/>
<path d="M150.9 1141.9a4.3 4.3 0 1 0 8.6 0a4.3 4.3 0 1 0 -8.6 0zM155.7 1136.8a4.3 4.3 0 1 0 8.6 0a4.3 4.3 0 1 0 -8.6 0zM162.4 1121.5a4.3 4.3 0 1 0 8.6 0a4.3 4.3 0 1 0 -8.6 0zM176.1 1059.4a4.3 4.3 0 1 0 8.6 0a4.3 4.3 0 1 0 -8.6 0zM182.7 1091a4.3 4.3 0 1 0 8.6 0a4.3 4.3 0 1 0 -8.6 0zM187.5 1102.9a4.3 4.3 0 1 0 8.6 0a4.3 4.3 0 1 0 -8.6 0zM207.1 995.2a4.3 4.3 0 1 0 8.6 0a4.3 4.3 0 1 0 -8.6 0zM238.8 891.4a4.3 4.3 0 1 0 8.6 0a4.3 4.3 0 1 0 -8.6 0zM244.7 1080a4.3 4.3 0 1 0 8.6 0a4.3 4.3 0 1 0 -8.6 0zM249.8 1097.4a4.3 4.3 0 1 0 8.6 0a4.3 4.3 0 1 0 -8.6 0zM272.6 968.1a4.3 4.3 0 1 0 8.6 0a4.3 4.3 0 1 0 -8.6 0zM282.1 1056.9a4.3 4.3 0 1 0 8.6 0a4.3 4.3 0 1 0 -8.6 0zM303.6 973.1a4.3 4.3 0 1 0 8.6 0a4.3 4.3 0 1 0 -8.6 0zM309.5 1085.5a4.3 4.3 0 1 0 8.6 0a4.3 4.3 0 1 0 -8.6 0zM332.1 965.2a4.3 4.3 0 1 0 8.6 0a4.3 4.3 0 1 0 -8.6 0zM344.7 1033.1a4.3 4.3 0 1 0 8.6 0a4.3 4.3 0 1 0 -8.6 0zM363.3 995a4.3 4.3 0 1 0 8.6 0a4.3 4.3 0 1 0 -8.6 0zM373.1 1056.5a4.3 4.3 0 1 0 8.6 0a4.3 4.3 0 1 0 -8.6 0zM394.8 973.3a4.3 4.3 0 1 0 8.6 0a4.3 4.3 0 1 0 -8.6 0zM405.5 1050.2a4.3 4.3 0 1 0 8.6 0a4.3 4.3 0 1 0 -8.6 0zM424.5 990.7a4.3 4.3 0 1 0 8.6 0a4.3 4.3 0 1 0 -8.6 0zM435.5 1046.7a4.3 4.3 0 1 0 8.6 0a4.3 4.3 0 1 0 -8.6 0zM456.7 974.8a4.3 4.3 0 1 0 8.6 0a4.3 4.3 0 1 0 -8.6 0zM466.9 1054.5a4.3 4.3 0 1 0 8.6 0a4.3 4.3 0 1 0 -8.6 0zM491.2 951.9a4.3 4.3 0 1 0 8.6 0a4.3 4.3 0 1 0 -8.6 0zM528.1 851a4.3 4.3 0 1 0 8.6 0a4.3 4.3 0 1 0 -8.6 0zM558.6 887.9a4.3 4.3 0 1 0 8.6 0a4.3 4.3 0 1 0 -8.6 0zM582.1 947.1a4.3 4.3 0 1 0 8.6 0a4.3 4.3 0 1 0 -8.6 0z" fill="#000"/>
<text x="132.5" y="829.6" font-size="26" text-anchor="end" textLength="67.5" lengthAdjust="spacingAndGlyphs" transform="translate(-14.900000000000006 0)">6.0·10</text>
<text x="133" y="814.5" font-size="17" text-anchor="end">-3</text>
<text x="132.5" y="884.07" font-size="26" text-anchor="end" textLength="67.5" lengthAdjust="spacingAndGlyphs" transform="translate(-14.900000000000006 0)">5.0·10</text>
<text x="133" y="868.97" font-size="17" text-anchor="end">-3</text>
<text x="132.5" y="938.53" font-size="26" text-anchor="end" textLength="67.5" lengthAdjust="spacingAndGlyphs" transform="translate(-14.900000000000006 0)">4.0·10</text>
<text x="133" y="923.43" font-size="17" text-anchor="end">-3</text>
<text x="132.5" y="993" font-size="26" text-anchor="end" textLength="67.5" lengthAdjust="spacingAndGlyphs" transform="translate(-14.900000000000006 0)">3.0·10</text>
<text x="133" y="977.9" font-size="17" text-anchor="end">-3</text>
<text x="132.5" y="1047.47" font-size="26" text-anchor="end" textLength="67.5" lengthAdjust="spacingAndGlyphs" transform="translate(-14.900000000000006 0)">2.0·10</text>
<text x="133" y="1032.37" font-size="17" text-anchor="end">-3</text>
<text x="132.5" y="1101.93" font-size="26" text-anchor="end" textLength="67.5" lengthAdjust="spacingAndGlyphs" transform="translate(-14.900000000000006 0)">1.0·10</text>
<text x="133" y="1086.83" font-size="17" text-anchor="end">-3</text>
<text transform="translate(134 1151.2) scale(0.9 1)" font-size="26.3" text-anchor="end">0</text>
<text transform="translate(150.3 1176.9) scale(0.9 1)" font-size="26.3" text-anchor="middle">0</text>
<text transform="translate(212.65 1176.9) scale(0.9 1)" font-size="26.3" text-anchor="middle">2</text>
<text transform="translate(274.99 1176.9) scale(0.9 1)" font-size="26.3" text-anchor="middle">4</text>
<text transform="translate(337.34 1176.9) scale(0.9 1)" font-size="26.3" text-anchor="middle">6</text>
<text transform="translate(399.69 1176.9) scale(0.9 1)" font-size="26.3" text-anchor="middle">8</text>
<text transform="translate(462.03 1176.9) scale(0.9 1)" font-size="26.3" text-anchor="middle">10</text>
<text transform="translate(524.38 1176.9) scale(0.9 1)" font-size="26.3" text-anchor="middle">12</text>
<text transform="translate(586.73 1176.9) scale(0.9 1)" font-size="26.3" text-anchor="middle">14</text>
<text transform="translate(25 978.5) rotate(-90)" x="0" y="0" font-size="32" text-anchor="middle" textLength="364.8" lengthAdjust="spacingAndGlyphs">Normalized HTO Conc. (-)</text>
<text x="383.2" y="1218.6" font-size="32" text-anchor="middle" textLength="164.1" lengthAdjust="spacingAndGlyphs">Time (days)</text>
</svg></body></html>
